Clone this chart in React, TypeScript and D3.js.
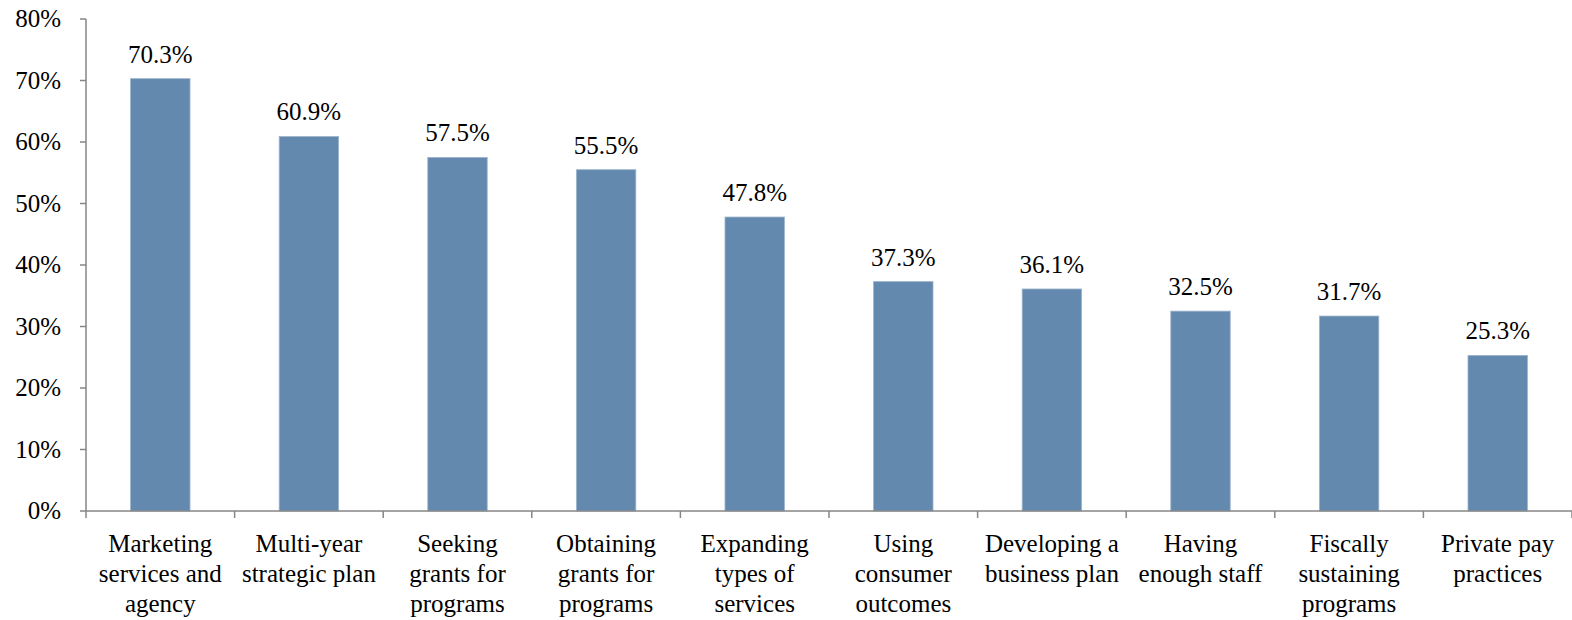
import React from "react";
import * as d3 from "d3";

const categories: string[] = [
  "Marketing\nservices and\nagency",
  "Multi-year\nstrategic plan",
  "Seeking\ngrants for\nprograms",
  "Obtaining\ngrants for\nprograms",
  "Expanding\ntypes of\nservices",
  "Using\nconsumer\noutcomes",
  "Developing a\nbusiness plan",
  "Having\nenough staff",
  "Fiscally\nsustaining\nprograms",
  "Private pay\npractices",
];
const values: number[] = [70.3, 60.9, 57.5, 55.5, 47.8, 37.3, 36.1, 32.5, 31.7, 25.3];
const yTicks: number[] = [0, 10, 20, 30, 40, 50, 60, 70, 80];

const W = 1572;
const H = 620;
const left = 86;
const right = 1572;
const top = 19;
const bottom = 511;
const FS = 25;

let ctx: CanvasRenderingContext2D | null = null;
function measure(s: string): number {
  if (!ctx) {
    const c = document.createElement("canvas");
    ctx = c.getContext("2d");
  }
  if (!ctx) return s.length * FS * 0.45;
  ctx.font = `${FS}px "Liberation Serif"`;
  return ctx.measureText(s).width;
}

function T({ x, y, s }: { x: number; y: number; s: string }) {
  return (
    <text x={x} y={y} style={{ fontFamily: '"Liberation Serif"', fontSize: "25px" }}>
      {s}
    </text>
  );
}

export default function App() {
  const x = d3
    .scaleBand<string>()
    .domain(categories)
    .range([left, right])
    .paddingInner(0.6)
    .paddingOuter(0.3);
  const step = x.step();
  const y = d3.scaleLinear().domain([0, 80]).range([bottom, top]);
  const bounds = d3.range(categories.length + 1).map((i) => left + i * step);
  const cx = (c: string) => x(c)! + x.bandwidth() / 2;

  return (
    <svg width={W} height={H} style={{ position: "absolute", left: 0, top: 0 }}>
      {categories.map((c, i) => (
        <rect
          key={c}
          x={x(c)!}
          y={y(values[i])}
          width={x.bandwidth()}
          height={y(0) - y(values[i])}
          fill="#6389AE"
          stroke="#9DB5CD"
          strokeWidth={0.8}
        />
      ))}
      {categories.map((c, i) => {
        const s = values[i].toFixed(1) + "%";
        return <T key={"v" + c} x={cx(c) - measure(s) / 2} y={y(values[i]) - 16} s={s} />;
      })}
      <line x1={left} x2={left} y1={top} y2={bottom} stroke="#868686" strokeWidth={1.5} />
      {yTicks.map((t) => {
        const s = t + "%";
        return (
          <g key={"y" + t}>
            <line x1={left - 6} x2={left} y1={y(t)} y2={y(t)} stroke="#868686" strokeWidth={1.5} />
            <T x={61 - measure(s)} y={y(t) + 8.3} s={s} />
          </g>
        );
      })}
      <line x1={left} x2={right} y1={bottom} y2={bottom} stroke="#868686" strokeWidth={1.5} />
      {bounds.map((b, i) => (
        <line key={"xt" + i} x1={b} x2={b} y1={bottom} y2={bottom + 7} stroke="#868686" strokeWidth={1.5} />
      ))}
      {categories.map((c) =>
        c.split("\n").map((line, j) => (
          <T key={"c" + c + j} x={cx(c) - measure(line) / 2} y={552 + j * 30} s={line} />
        ))
      )}
    </svg>
  );
}
